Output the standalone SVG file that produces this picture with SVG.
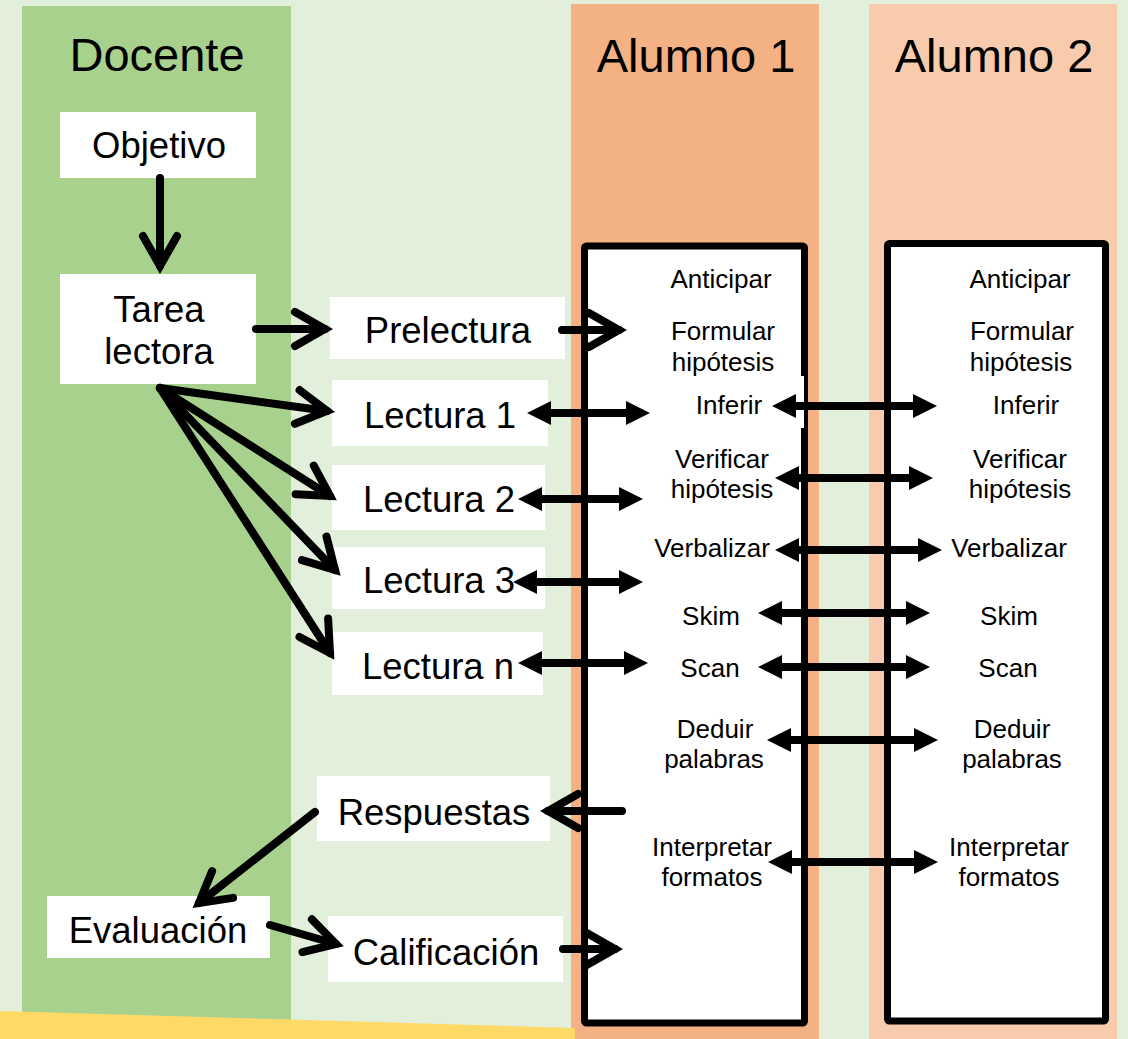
<svg xmlns="http://www.w3.org/2000/svg" width="1128" height="1039" viewBox="0 0 1128 1039">
<defs>
<style>
text{font-family:"Liberation Sans",Arial,sans-serif;fill:#000;text-anchor:middle}
.title{font-size:47px}
.lbl{font-size:36.5px}
.sm{font-size:26px}
.box{fill:#fff}
.panel{fill:#fff;stroke:#000;stroke-width:7}
.chev{stroke:#000;stroke-width:8;fill:none;stroke-linecap:round}
.dbl{stroke:#000;stroke-width:8;fill:none}
</style>
<marker id="chev" markerUnits="userSpaceOnUse" viewBox="-38 -26 46 52" markerWidth="46" markerHeight="52" refX="0" refY="0" orient="auto">
<path d="M-30,-17 L0,0 L-30,17" fill="none" stroke="#000" stroke-width="8" stroke-linecap="round" stroke-linejoin="miter"/>
</marker>
<marker id="tri" markerUnits="userSpaceOnUse" viewBox="-4 -14 30 28" markerWidth="30" markerHeight="28" refX="0" refY="0" orient="auto-start-reverse">
<path d="M-2,-12 L22,0 L-2,12 Z" fill="#000"/>
</marker>
</defs>

<rect x="0" y="0" width="1128" height="1039" fill="#E2EFDA"/>
<g id="lanes">
<rect x="22" y="6" width="269" height="1033" fill="#A9D18E"/>
<rect x="571" y="4" width="248" height="1035" fill="#F4B183"/>
<rect x="869" y="4" width="248" height="1035" fill="#F8CBAD"/>
<polygon points="0,1011 575,1028 575,1039 0,1039" fill="#FFD966"/>
<text class="title" x="157" y="71">Docente</text>
<text class="title" x="696" y="72">Alumno 1</text>
<text class="title" x="994" y="72">Alumno 2</text>
</g>

<g id="alumno1">
<rect class="panel" x="584.5" y="246" width="220" height="777" rx="2"/>
<rect x="799" y="376" width="5" height="52" fill="#fff"/>
<text class="sm" x="721" y="288">Anticipar</text>
<text class="sm" x="723" y="340">Formular</text>
<text class="sm" x="723" y="371">hipótesis</text>
<text class="sm" x="729" y="414">Inferir</text>
<text class="sm" x="722" y="468">Verificar</text>
<text class="sm" x="722" y="498">hipótesis</text>
<text class="sm" x="712" y="557">Verbalizar</text>
<text class="sm" x="711" y="625">Skim</text>
<text class="sm" x="710" y="677">Scan</text>
<text class="sm" x="715" y="738">Deduir</text>
<text class="sm" x="714" y="768">palabras</text>
<text class="sm" x="712" y="856">Interpretar</text>
<text class="sm" x="712" y="886">formatos</text>
</g>

<g id="alumno2">
<rect class="panel" x="887.5" y="243.5" width="218" height="777.5" rx="2"/>
<text class="sm" x="1020" y="288">Anticipar</text>
<text class="sm" x="1022" y="340">Formular</text>
<text class="sm" x="1021" y="371">hipótesis</text>
<text class="sm" x="1026" y="414">Inferir</text>
<text class="sm" x="1020" y="468">Verificar</text>
<text class="sm" x="1020" y="498">hipótesis</text>
<text class="sm" x="1009" y="557">Verbalizar</text>
<text class="sm" x="1009" y="625">Skim</text>
<text class="sm" x="1008" y="677">Scan</text>
<text class="sm" x="1012" y="738">Deduir</text>
<text class="sm" x="1012" y="768">palabras</text>
<text class="sm" x="1009" y="856">Interpretar</text>
<text class="sm" x="1009" y="886">formatos</text>
</g>

<g id="objetivo"><rect class="box" x="60" y="112" width="196" height="66"/><text class="lbl" x="159" y="158">Objetivo</text></g>
<g id="tarea"><rect class="box" x="60" y="274" width="196" height="110"/><text class="lbl" x="159" y="322">Tarea</text><text class="lbl" x="159" y="364">lectora</text></g>
<g id="prelectura"><rect class="box" x="330" y="297" width="235" height="62"/><text class="lbl" x="448" y="343">Prelectura</text></g>
<g id="lectura1"><rect class="box" x="332" y="380" width="216" height="66"/><text class="lbl" x="440" y="428">Lectura 1</text></g>
<g id="lectura2"><rect class="box" x="332" y="465" width="213" height="65"/><text class="lbl" x="439" y="512">Lectura 2</text></g>
<g id="lectura3"><rect class="box" x="332" y="547" width="213" height="62"/><text class="lbl" x="439" y="593">Lectura 3</text></g>
<g id="lecturan"><rect class="box" x="332" y="632" width="211" height="63"/><text class="lbl" x="438" y="679">Lectura n</text></g>
<g id="respuestas"><rect class="box" x="317" y="776" width="233" height="65"/><text class="lbl" x="434" y="825">Respuestas</text></g>
<g id="evaluacion"><rect class="box" x="47" y="896" width="223" height="62"/><text class="lbl" x="158" y="943">Evaluación</text></g>
<g id="calificacion"><rect class="box" x="328" y="916" width="235" height="66"/><text class="lbl" x="446" y="965">Calificación</text></g>

<g id="connectors">
<line class="chev" x1="160" y1="178" x2="160" y2="266" marker-end="url(#chev)"/>
<line class="chev" x1="256" y1="329" x2="325" y2="329" marker-end="url(#chev)"/>
<line class="chev" x1="562" y1="330" x2="619" y2="330" marker-end="url(#chev)"/>
<line class="chev" x1="160" y1="388" x2="327" y2="411" marker-end="url(#chev)"/>
<line class="chev" x1="160" y1="388" x2="330" y2="496" marker-end="url(#chev)"/>
<line class="chev" x1="160" y1="388" x2="335" y2="570" marker-end="url(#chev)"/>
<line class="chev" x1="160" y1="388" x2="330" y2="653" marker-end="url(#chev)"/>
<line class="chev" x1="622" y1="811" x2="548" y2="811" marker-end="url(#chev)"/>
<line class="chev" x1="315" y1="812" x2="199" y2="903" marker-end="url(#chev)"/>
<line class="chev" x1="270" y1="925" x2="336" y2="944" marker-end="url(#chev)"/>
<line class="chev" x1="563" y1="949" x2="615" y2="949" marker-end="url(#chev)"/>

<line class="dbl" x1="549" y1="413" x2="628" y2="413" marker-start="url(#tri)" marker-end="url(#tri)"/>
<line class="dbl" x1="540" y1="499" x2="621" y2="499" marker-start="url(#tri)" marker-end="url(#tri)"/>
<line class="dbl" x1="535" y1="582" x2="621" y2="582" marker-start="url(#tri)" marker-end="url(#tri)"/>
<line class="dbl" x1="540" y1="663" x2="626" y2="663" marker-start="url(#tri)" marker-end="url(#tri)"/>

<line class="dbl" x1="794" y1="406" x2="915" y2="406" marker-start="url(#tri)" marker-end="url(#tri)"/>
<line class="dbl" x1="797" y1="478" x2="911" y2="478" marker-start="url(#tri)" marker-end="url(#tri)"/>
<line class="dbl" x1="797" y1="550" x2="920" y2="550" marker-start="url(#tri)" marker-end="url(#tri)"/>
<line class="dbl" x1="780" y1="613" x2="908" y2="613" marker-start="url(#tri)" marker-end="url(#tri)"/>
<line class="dbl" x1="780" y1="667" x2="908" y2="667" marker-start="url(#tri)" marker-end="url(#tri)"/>
<line class="dbl" x1="789" y1="740" x2="916" y2="740" marker-start="url(#tri)" marker-end="url(#tri)"/>
<line class="dbl" x1="790" y1="862" x2="916" y2="862" marker-start="url(#tri)" marker-end="url(#tri)"/>
</g>
</svg>
